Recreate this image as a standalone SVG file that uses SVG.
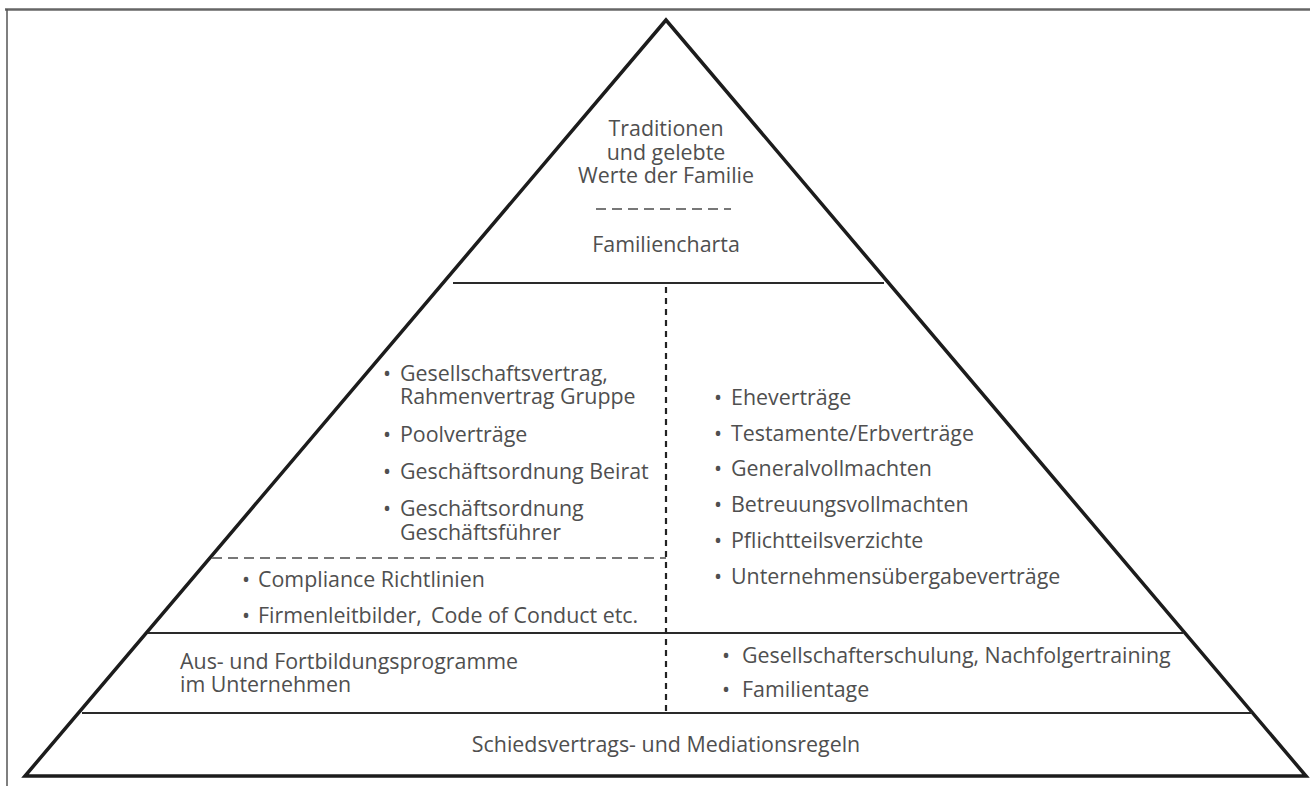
<svg xmlns="http://www.w3.org/2000/svg" width="1310" height="786" viewBox="0 0 1310 786">
<style>
.t{font-family:"Open Sans","Noto Sans","Liberation Sans",sans-serif;font-size:21.4px;fill:#4f4f4f}
.c{text-anchor:middle}
.solid{stroke:#2a2a2a;stroke-width:2.2;fill:none}
.dash{stroke:#777;stroke-width:2;fill:none;stroke-dasharray:10 6}
.vdash{stroke:#222;stroke-width:2.2;fill:none;stroke-dasharray:6 5}
</style>
<rect x="0" y="0" width="1310" height="786" fill="#fff"/>
<g id="frame">
<line x1="5" y1="9.5" x2="1310" y2="9.5" stroke="#666" stroke-width="2.5"/>
<line x1="7" y1="9" x2="7" y2="786" stroke="#555" stroke-width="1.5"/>
</g>
<g id="pyramid">
<polygon points="666,20 25,776 1306,776" fill="none" stroke="#1c1c1c" stroke-width="3.5" stroke-linejoin="miter" stroke-miterlimit="20"/>
</g>
<g id="connectors">
<line class="solid" x1="453" y1="283" x2="884" y2="283"/>
<line class="solid" x1="148" y1="633" x2="1183" y2="633"/>
<line class="solid" x1="82" y1="713" x2="1252" y2="713"/>
<line class="vdash" x1="666" y1="287" x2="666" y2="713"/>
<line class="dash" x1="212" y1="558" x2="666" y2="558"/>
<line class="dash" x1="596" y1="209" x2="731" y2="209" stroke-dasharray="10 7"/>
</g>
<g id="top">
<text class="t c" x="666" y="136">Traditionen</text>
<text class="t c" x="666" y="160">und gelebte</text>
<text class="t c" x="666" y="183">Werte der Familie</text>
<text class="t c" x="666" y="252">Familiencharta</text>
</g>
<g id="company">
<text class="t" x="383" y="381">•</text><text class="t" x="400" y="381">Gesellschaftsvertrag,</text>
<text class="t" x="400" y="404">Rahmenvertrag Gruppe</text>
<text class="t" x="383" y="442">•</text><text class="t" x="400" y="442">Poolverträge</text>
<text class="t" x="383" y="479">•</text><text class="t" x="400" y="479">Geschäftsordnung Beirat</text>
<text class="t" x="383" y="516">•</text><text class="t" x="400" y="516">Geschäftsordnung</text>
<text class="t" x="400" y="540">Geschäftsführer</text>
</g>
<g id="compliance">
<text class="t" x="242" y="587">•</text><text class="t" x="258" y="587">Compliance Richtlinien</text>
<text class="t" x="242" y="623">•</text><text class="t" x="258" y="623">Firmenleitbilder,<tspan x="431">Code of Conduct etc.</tspan></text>
</g>
<g id="family">
<text class="t" x="714" y="405">•</text><text class="t" x="731" y="405">Eheverträge</text>
<text class="t" x="714" y="441">•</text><text class="t" x="731" y="441">Testamente/Erbverträge</text>
<text class="t" x="714" y="476">•</text><text class="t" x="731" y="476">Generalvollmachten</text>
<text class="t" x="714" y="512">•</text><text class="t" x="731" y="512">Betreuungsvollmachten</text>
<text class="t" x="714" y="548">•</text><text class="t" x="731" y="548">Pflichtteilsverzichte</text>
<text class="t" x="714" y="584">•</text><text class="t" x="731" y="584">Unternehmensübergabeverträge</text>
</g>
<g id="training-company">
<text class="t" x="180" y="669">Aus- und Fortbildungsprogramme</text>
<text class="t" x="180" y="692">im Unternehmen</text>
</g>
<g id="training-family">
<text class="t" x="722" y="663">•</text><text class="t" x="742" y="663">Gesellschafterschulung, Nachfolgertraining</text>
<text class="t" x="722" y="697">•</text><text class="t" x="742" y="697">Familientage</text>
</g>
<g id="base">
<text class="t c" x="666" y="752">Schiedsvertrags- und Mediationsregeln</text>
</g>
</svg>
